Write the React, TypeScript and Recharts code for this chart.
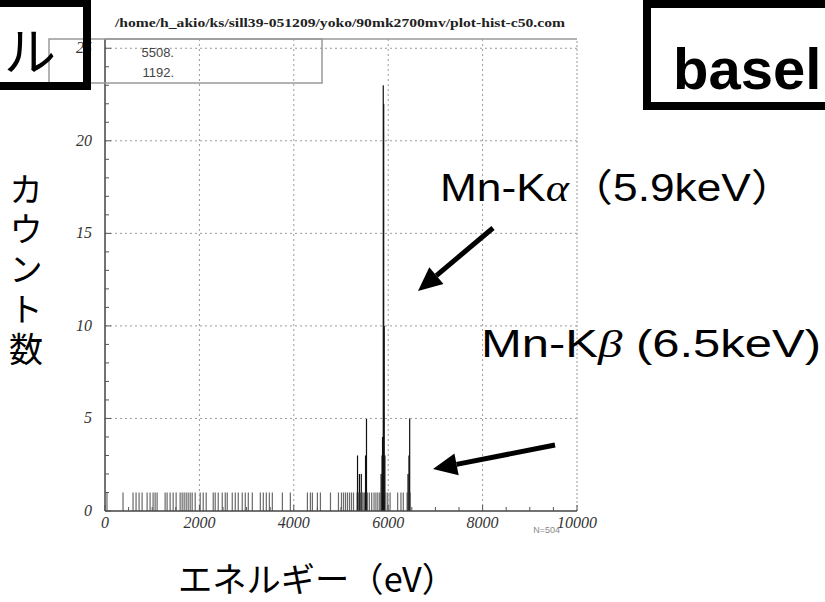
import React from 'react';
import { ComposedChart, Bar, XAxis, YAxis, ReferenceLine } from 'recharts';

// Histogram bins: energy (eV) and counts
const energies = [
  42, 382, 594, 658, 722, 786, 892, 955, 1019, 1062, 1104, 1274, 1316, 1380, 1444, 1507,
  1592, 1635, 1677, 1720, 1762, 1805, 1847, 1911, 2017, 2081, 2144, 2293, 2335, 2399,
  2484, 2548, 2590, 2696, 2760, 2823, 2908, 2972, 3036, 3121, 3291, 3354, 3418, 3482,
  3545, 3758, 3927, 4288, 4352, 4394, 4500, 4564, 4777, 4946, 5010, 5053, 5095, 5137,
  5180, 5222, 5265,
  5340, 5350, 5370, 5390, 5410, 5430, 5450, 5470, 5500, 5520, 5540, 5560, 5600, 5650,
  5700, 5740, 5780, 5820, 5850, 5870, 5880, 5895, 5905, 5915, 5930, 5950, 5990, 6040,
  6200, 6270, 6320, 6400, 6420, 6440, 6455, 6470,
];
const counts = [
  1, 1, 1, 1, 1, 1, 1, 1, 1, 1, 1, 1, 1, 1, 1, 1,
  1, 1, 1, 1, 1, 1, 1, 1, 1, 1, 1, 1, 1, 1,
  1, 1, 1, 1, 1, 1, 1, 1, 1, 1, 1, 1, 1, 1,
  1, 1, 1, 1, 1, 1, 1, 1, 1, 1, 1, 1, 1, 1,
  1, 1, 1,
  1, 3, 1, 2, 1, 2, 1, 1, 1, 3, 5, 1, 1, 1,
  1, 1, 1, 1, 2, 3, 4, 23, 22, 10, 3, 1, 1, 1,
  1, 1, 1, 1, 2, 3, 5, 1,
];

const xTicks = [0, 500, 1000, 1500, 2000, 2500, 3000, 3500, 4000, 4500, 5000, 5500, 6000, 6500, 7000, 7500, 8000, 8500, 9000, 9500, 10000];
const xLabels = [0, 2000, 4000, 6000, 8000, 10000];
const xGrid = [2000, 4000, 6000, 8000];
const yTicks = [0, 1, 2, 3, 4, 5, 6, 7, 8, 9, 10, 11, 12, 13, 14, 15, 16, 17, 18, 19, 20, 21, 22, 23, 24, 25];
const yLabels = [0, 5, 10, 15, 20, 25];
const yGrid = [5, 10, 15, 20, 25];
const statValues = ['5508.', '1192.'];
const entriesText = 'N=504';
const titleText = '/home/h_akio/ks/sill39-051209/yoko/90mk2700mv/plot-hist-c50.com';

const data = energies.map((e, i) => ({ e, c: counts[i] }));

const serif = '"Liberation Serif", "Times New Roman", "DejaVu Serif", serif';
const sans = '"Liberation Sans", Arial, sans-serif';
const cjk = '"Noto Sans CJK JP", sans-serif';

const BinShape = (props: any) => {
  const { x, y, width, height, payload } = props;
  if (height == null || !(height > 0)) return null;
  const cx = x + (width || 0) / 2;
  const fill = payload && payload.c > 1 ? '#111' : '#6a6a6a';
  return <rect x={cx - 0.6} y={y} width={1.2} height={height} fill={fill} />;
};

const tickTextStyle = { fontFamily: serif, fontStyle: 'italic' as const, fontSize: 16 };

const YTick = (props: any) => {
  const { x, y, payload } = props;
  const v = payload.value;
  const major = yLabels.includes(v);
  return (
    <g>
      <line x1={x} x2={x + (major ? 6 : 4)} y1={y} y2={y} stroke="#555" strokeWidth={1} />
      {major && (
        <text x={x - 13} y={y + 5} textAnchor="end" style={tickTextStyle} fill="#333">
          {v}
        </text>
      )}
    </g>
  );
};

const XTick = (props: any) => {
  const { x, y, payload } = props;
  const v = payload.value;
  const major = xLabels.includes(v);
  return (
    <g>
      <line x1={x} x2={x} y1={y} y2={y - (major ? 6 : 4)} stroke="#555" strokeWidth={1} />
      {major && (
        <text x={x} y={y + 17} textAnchor="middle" style={tickTextStyle} fill="#333">
          {v}
        </text>
      )}
    </g>
  );
};

function Arrow({ x1, y1, x2, y2 }: { x1: number; y1: number; x2: number; y2: number }) {
  const ang = Math.atan2(y2 - y1, x2 - x1);
  const L = 24;
  const W = 11;
  const bx = x2 - L * Math.cos(ang);
  const by = y2 - L * Math.sin(ang);
  const px = -Math.sin(ang) * W;
  const py = Math.cos(ang) * W;
  return (
    <g>
      <line x1={x1} y1={y1} x2={bx} y2={by} stroke="#000" strokeWidth={5} />
      <polygon points={`${x2},${y2} ${bx + px},${by + py} ${bx - px},${by - py}`} fill="#000" />
    </g>
  );
}

export default function App() {
  return (
    <div style={{ position: 'absolute', left: 0, top: 0, width: 825, height: 602, background: '#fff', overflow: 'hidden' }}>
      <ComposedChart
        width={825}
        height={602}
        data={data}
        margin={{ top: 39, right: 248, bottom: 61, left: 75 }}
      >
        {xGrid.map((v) => (
          <ReferenceLine key={'gx' + v} x={v} stroke="#9a9a9a" strokeDasharray="2 3" />
        ))}
        {yGrid.map((v) => (
          <ReferenceLine key={'gy' + v} y={v} stroke="#9a9a9a" strokeDasharray="2 3" />
        ))}
        <ReferenceLine y={25.5} stroke="#999" strokeWidth={1.5} />
        <ReferenceLine x={10000} stroke="#999" strokeDasharray="2 2" />
        <XAxis
          dataKey="e"
          type="number"
          domain={[0, 10000]}
          ticks={xTicks}
          interval={0}
          tickSize={0}
          tickMargin={0}
          tick={XTick}
          height={30}
          axisLine={{ stroke: '#444', strokeWidth: 1.5 }}
          allowDataOverflow
        />
        <YAxis
          type="number"
          domain={[0, 25.5]}
          ticks={yTicks}
          interval={0}
          tickSize={0}
          tickMargin={0}
          tick={YTick}
          width={30}
          axisLine={{ stroke: '#444', strokeWidth: 1.5 }}
          allowDataOverflow
        />
        <Bar dataKey="c" isAnimationActive={false} shape={BinShape} />
      </ComposedChart>

      <svg width={825} height={602} style={{ position: 'absolute', left: 0, top: 0, pointerEvents: 'none' }}>
        {/* title */}
        <text x={115} y={27} style={{ fontFamily: serif, fontWeight: 'bold', fontSize: 12 }} fill="#222" textLength={450} lengthAdjust="spacingAndGlyphs">
          {titleText}
        </text>
        {/* stats box */}
        <rect x={49} y={39} width={273} height={44} fill="none" stroke="#999" strokeWidth={1.5} />
        <text x={174} y={57} textAnchor="end" style={{ fontFamily: sans, fontSize: 13 }} fill="#444">{statValues[0]}</text>
        <text x={174} y={77} textAnchor="end" style={{ fontFamily: sans, fontSize: 13 }} fill="#444">{statValues[1]}</text>
        <text x={560} y={533} textAnchor="end" style={{ fontFamily: sans, fontSize: 9 }} fill="#888">{entriesText}</text>

        {/* boxed labels at top (cropped slide labels) */}
        <rect x={-10} y={3} width={97} height={83} fill="none" stroke="#000" strokeWidth={8} />
        <text x={4} y={71} style={{ fontFamily: cjk, fontSize: 52 }} fill="#000">ル</text>
        <rect x={647} y={4} width={200} height={102} fill="none" stroke="#000" strokeWidth={8} />
        <text x={673} y={89} style={{ fontFamily: sans, fontWeight: 'bold', fontSize: 58 }} fill="#000">basel</text>

        {/* axis titles */}
        <text x={26} y={172} style={{ fontFamily: cjk, fontSize: 34, writingMode: 'vertical-rl', letterSpacing: 6 }} fill="#000">
          カウント数
        </text>
        <text x={178} y={592} style={{ fontFamily: cjk, fontSize: 34 }} fill="#000" textLength={278} lengthAdjust="spacingAndGlyphs">
          エネルギー（eV）
        </text>

        {/* annotations */}
        <text x={440} y={201} style={{ fontFamily: sans, fontSize: 38 }} fill="#000" textLength={355} lengthAdjust="spacingAndGlyphs">
          Mn-K<tspan style={{ fontFamily: serif, fontStyle: 'italic' }}>α</tspan><tspan style={{ fontFamily: cjk }}>（</tspan>5.9keV<tspan style={{ fontFamily: cjk }}>）</tspan>
        </text>
        <text x={481} y={357} style={{ fontFamily: sans, fontSize: 38 }} fill="#000" textLength={340} lengthAdjust="spacingAndGlyphs">
          Mn-K<tspan style={{ fontFamily: serif, fontStyle: 'italic' }}>β</tspan> (6.5keV)
        </text>
        <Arrow x1={493} y1={228} x2={418} y2={291} />
        <Arrow x1={555} y1={445} x2={433} y2={469} />
      </svg>
    </div>
  );
}
